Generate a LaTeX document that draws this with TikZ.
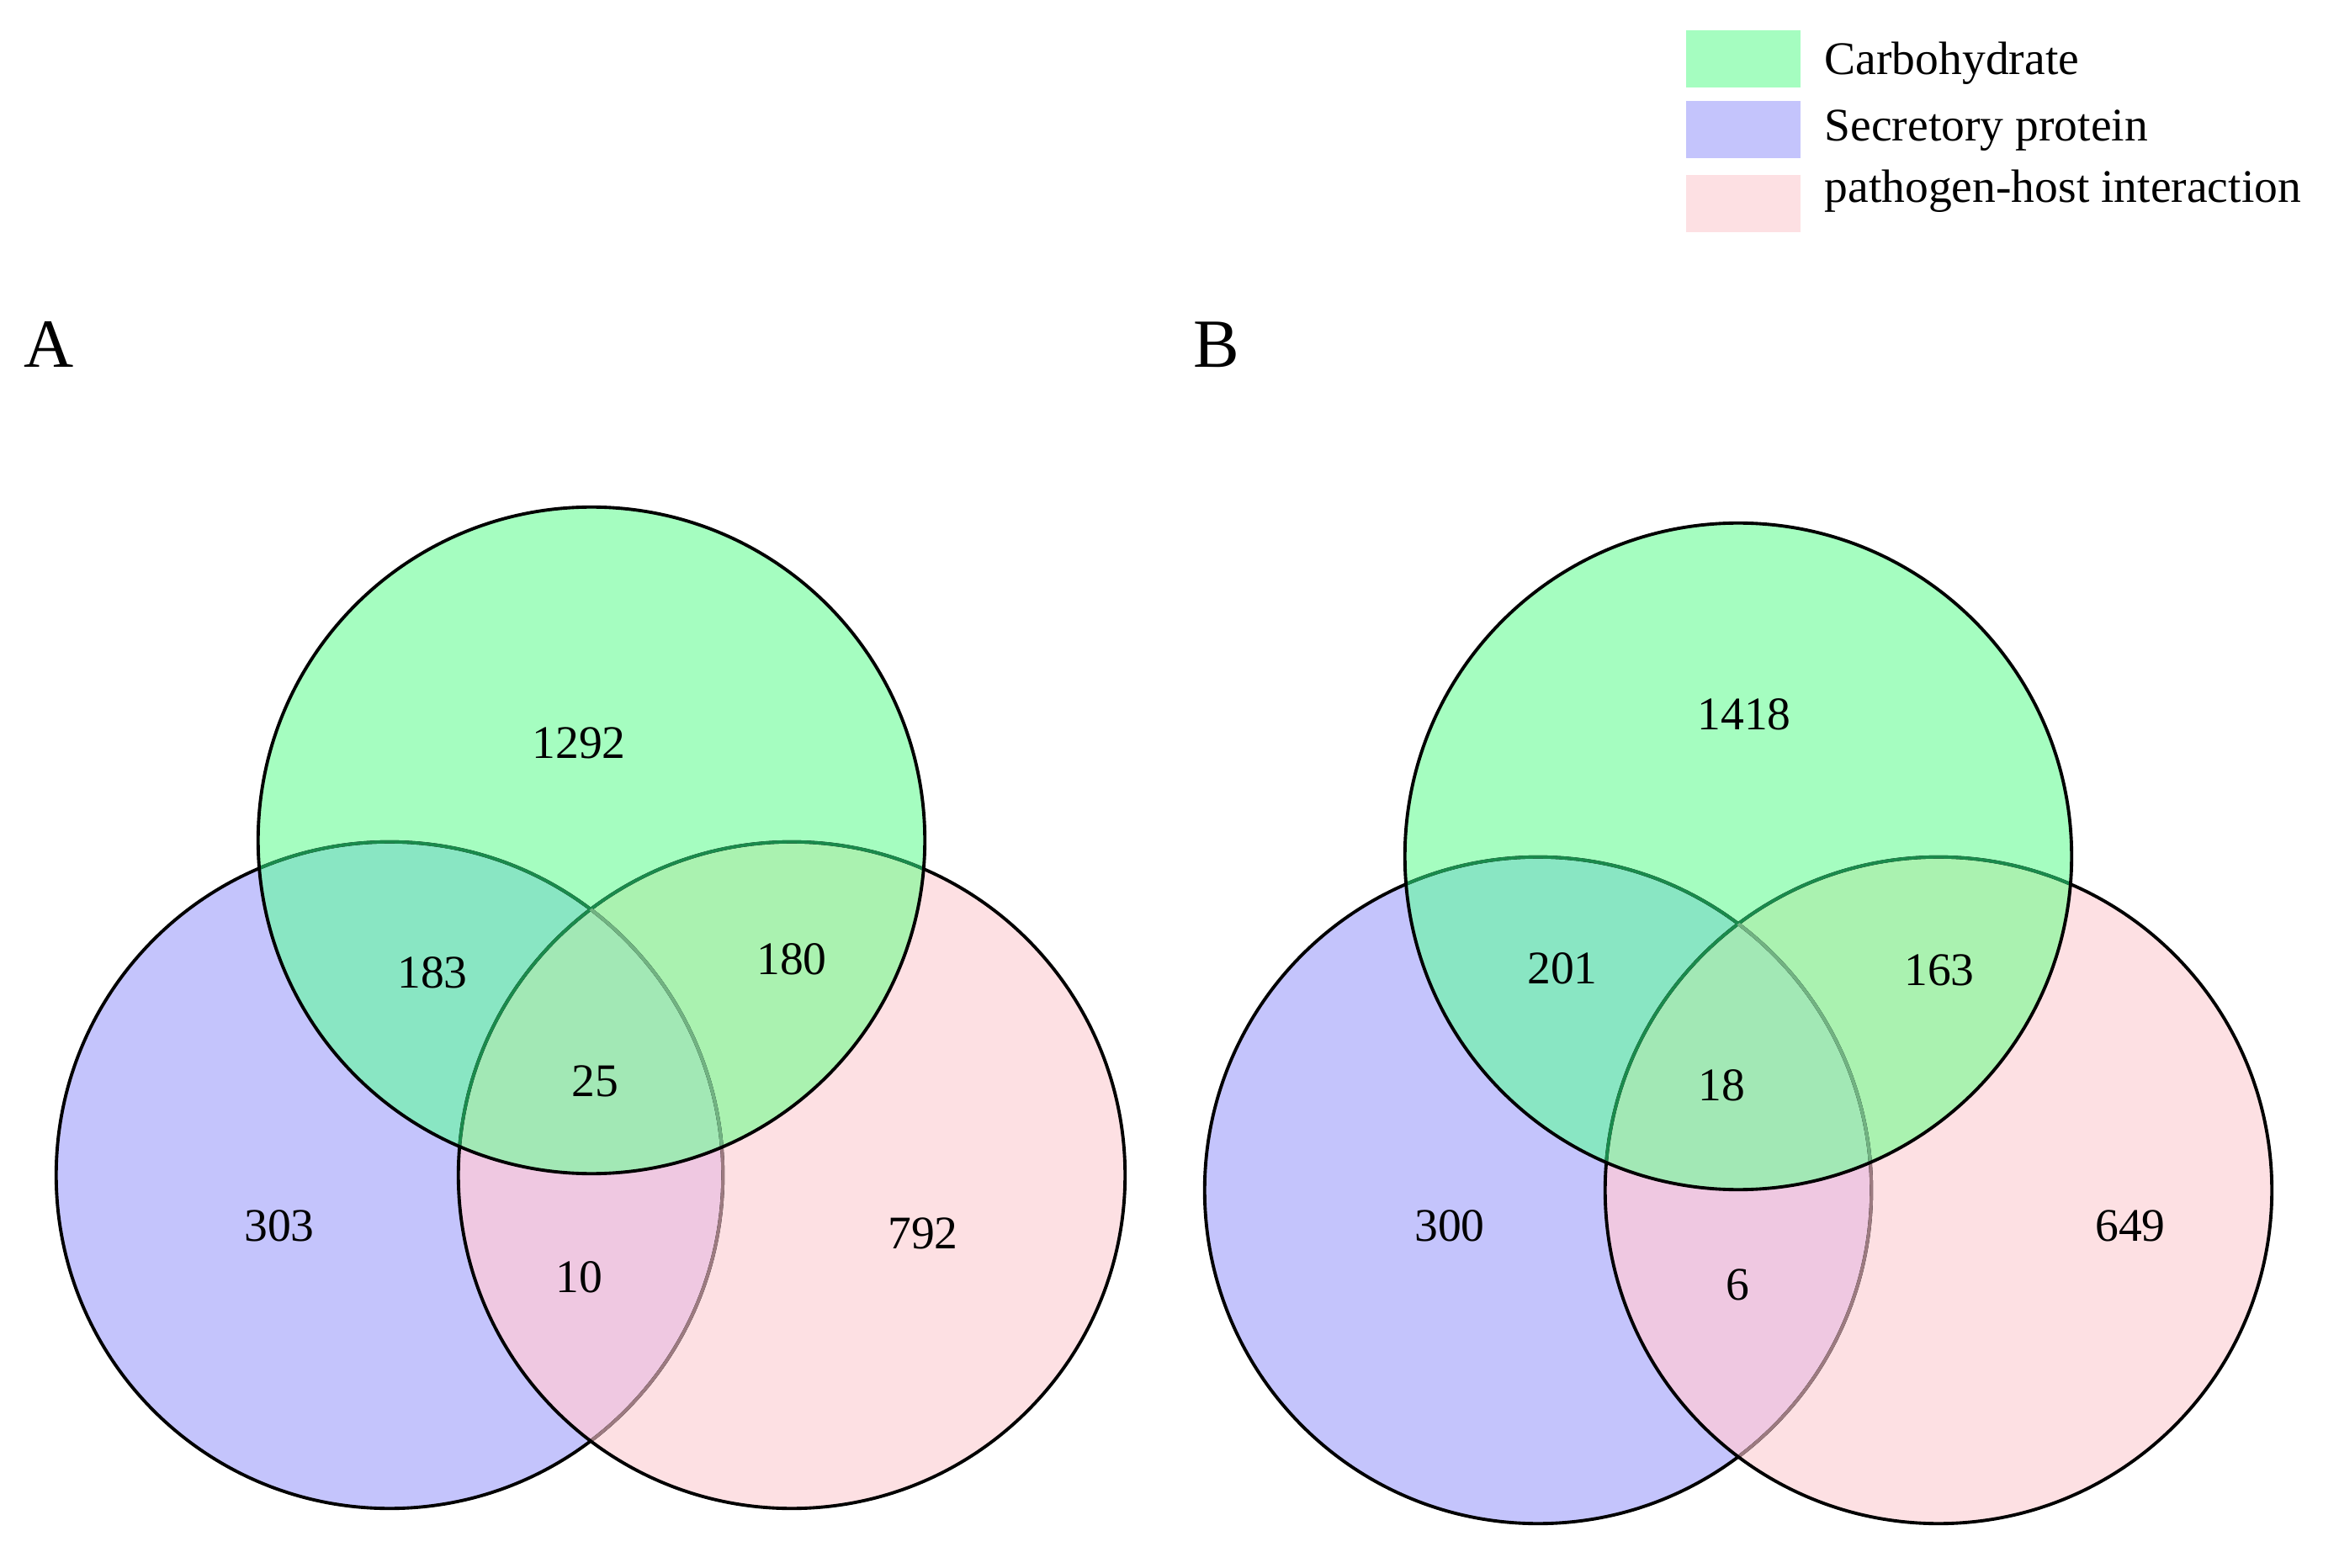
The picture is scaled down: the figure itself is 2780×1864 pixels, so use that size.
\documentclass[tikz,border=0pt]{standalone}
\usepackage{fontspec}
\setmainfont{Liberation Serif}
\definecolor{cG}{HTML}{A5FDC0}
\definecolor{cB}{HTML}{C4C4FC}
\definecolor{cP}{HTML}{FDE0E3}
\definecolor{cGB}{HTML}{89E6C3}
\definecolor{cGP}{HTML}{AAF2B0}
\definecolor{cGBP}{HTML}{A2E8B5}
\definecolor{cBP}{HTML}{EFC8E1}
\definecolor{lnG}{HTML}{1A8A4C}
\definecolor{lnGP}{HTML}{72B282}
\definecolor{lnP}{HTML}{9C7A80}
\newcommand\VR{3.96cm}
\newcommand\VennDraw[1]{%
 \fill[cB] (#1b) circle[radius=\VR];
 \fill[cP] (#1p) circle[radius=\VR];
 \begin{scope}\clip (#1b) circle[radius=\VR]; \fill[cBP] (#1p) circle[radius=\VR]; \end{scope}
 \fill[cG] (#1g) circle[radius=\VR];
 \begin{scope}\clip (#1g) circle[radius=\VR];
   \fill[cGB] (#1b) circle[radius=\VR];
   \fill[cGP] (#1p) circle[radius=\VR];
   \clip (#1b) circle[radius=\VR];
   \fill[cGBP] (#1p) circle[radius=\VR];
 \end{scope}
 \draw[vline] (#1b) circle[radius=\VR];
 \begin{scope}\clip (#1p) circle[radius=\VR]; \draw[vline,lnP] (#1b) circle[radius=\VR]; \end{scope}
 \draw[vline] (#1p) circle[radius=\VR];
 \begin{scope}\clip (#1g) circle[radius=\VR];
   \draw[vline,lnG] (#1b) circle[radius=\VR];
   \draw[vline,lnG] (#1p) circle[radius=\VR];
   \clip (#1p) circle[radius=\VR];
   \draw[vline,lnGP] (#1b) circle[radius=\VR];
 \end{scope}
 \draw[vline] (#1g) circle[radius=\VR];
}
\begin{document}
\begin{tikzpicture}[x=0.01cm,y=-0.01cm,
  vline/.style={line width=1.1pt},
  num/.style={inner sep=0pt,font=\fontsize{15.8pt}{18pt}\selectfont},
  legtxt/.style={inner sep=0pt,anchor=base west,font=\fontsize{15.8pt}{18pt}\selectfont},
  panel/.style={inner sep=0pt,anchor=base west,font=\fontsize{23.3pt}{26pt}\selectfont}]
\useasboundingbox (0,0) rectangle (2780,1864);
% legend
\fill[cG] (2004,36) rectangle (2140,104);
\fill[cB] (2004,120) rectangle (2140,188);
\fill[cP] (2004,208) rectangle (2140,276);
\node[legtxt] (lg1) at (2168,89) {Carbohydrate};
\node[legtxt] (lg2) at (2168,168) {Secretory protein};
\node[legtxt] (lg3) at (2168,241) {pathogen-host interaction};
% panel labels
\node[panel] (labA) at (28,437) {A};
\node[panel] (labB) at (1418,437) {B};
% venn A
\coordinate (Ag) at (703,999);
\coordinate (Ab) at (463,1397);
\coordinate (Ap) at (941,1397);
\VennDraw{A}
\node[num] (a1) at (688,883) {1292};
\node[num] (a2) at (514,1156) {183};
\node[num] (a3) at (941,1140) {180};
\node[num] (a4) at (707,1285) {25};
\node[num] (a5) at (332,1457) {303};
\node[num] (a6) at (688,1518) {10};
\node[num] (a7) at (1097,1466) {792};
% venn B
\coordinate (Bg) at (2066,1018);
\coordinate (Bb) at (1828,1415);
\coordinate (Bp) at (2304,1415);
\VennDraw{B}
\node[num] (b1) at (2073,849) {1418};
\node[num] (b2) at (1857,1151) {201};
\node[num] (b3) at (2305,1153) {163};
\node[num] (b4) at (2046,1290) {18};
\node[num] (b5) at (1723,1457) {300};
\node[num] (b6) at (2065,1527) {6};
\node[num] (b7) at (2532,1457) {649};
\end{tikzpicture}
\end{document}
